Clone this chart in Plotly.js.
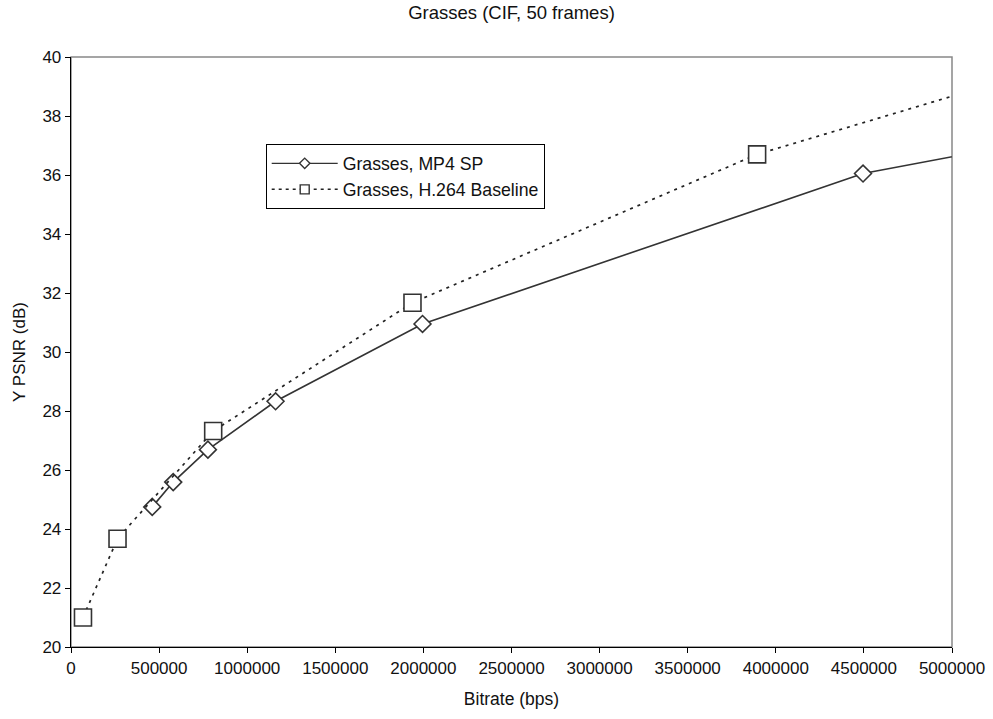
<!DOCTYPE html>
<html>
<head>
<meta charset="utf-8">
<script src="https://cdn.plot.ly/plotly-3.0.1.min.js"></script>
<style>html,body{margin:0;padding:0;background:#fff;}#chart{width:993px;height:719px;}</style>
</head>
<body>
<div id="chart"></div>
<script>
// Data
const mp4Name = "Grasses, MP4 SP";
const mp4Bitrate = [461000, 580000, 777000, 1161000, 1995000, 4495000, 6000000];
const mp4Psnr    = [24.75, 25.59, 26.69, 28.33, 30.95, 36.05, 37.75];

const h264Name = "Grasses, H.264 Baseline";
const h264Bitrate = [68000, 264000, 807000, 1938000, 3894000, 6000000];
const h264Psnr    = [21.0, 23.67, 27.32, 31.67, 36.70, 40.45];

const xTicks = [0, 500000, 1000000, 1500000, 2000000, 2500000, 3000000, 3500000, 4000000, 4500000, 5000000];
const yTicks = [20, 22, 24, 26, 28, 30, 32, 34, 36, 38, 40];

const ink = '#333333';
const fam = 'Liberation Sans, Arial, sans-serif';
const font = {family: fam, size: 17, color: '#111'};

const traces = [
  {x: mp4Bitrate, y: mp4Psnr, mode: 'lines+markers', name: mp4Name, showlegend: false,
   line: {color: ink, width: 1.6},
   marker: {symbol: 'diamond', size: 13, color: '#fff', line: {color: ink, width: 1.6}}},
  {x: h264Bitrate, y: h264Psnr, mode: 'lines+markers', name: h264Name, showlegend: false,
   line: {color: '#222', width: 1.7, dash: '3px,5px'},
   marker: {symbol: 'square', size: 17, color: '#fff', line: {color: ink, width: 1.6}}},
  // legend entries
  {x: [null], y: [null], mode: 'lines+markers', name: mp4Name,
   line: {color: ink, width: 1.4},
   marker: {symbol: 'diamond', size: 8, color: '#fff', line: {color: ink, width: 1.4}}},
  {x: [null], y: [null], mode: 'lines+markers', name: h264Name,
   line: {color: '#222', width: 1.5, dash: '3px,4px'},
   marker: {symbol: 'square', size: 9, color: '#fff', line: {color: ink, width: 1.4}}}
];

const layout = {
  width: 993, height: 719,
  margin: {l: 71, r: 41, t: 57, b: 72, pad: 0},
  paper_bgcolor: '#fff', plot_bgcolor: '#fff',
  font: font,
  title: {text: 'Grasses (CIF, 50 frames)', x: 0.5, xref: 'paper', y: 0.982, yanchor: 'middle', font: {size: 18.5, family: fam, color: '#111'}},
  xaxis: {
    range: [0, 5000000], tickmode: 'array', tickvals: xTicks, ticktext: xTicks.map(String),
    showgrid: false, zeroline: false, showline: true, linecolor: '#000', linewidth: 1.3,
    ticks: 'outside', ticklen: 5, tickcolor: '#000', tickwidth: 1,
    tickfont: {size: 17}, title: {text: 'Bitrate (bps)', font: {size: 17.5}, standoff: 16}
  },
  yaxis: {
    range: [20, 40], tickmode: 'array', tickvals: yTicks, ticktext: yTicks.map(String),
    showgrid: false, zeroline: false, showline: true, linecolor: '#000', linewidth: 1.3,
    ticks: 'outside', ticklen: 5, tickcolor: '#000', tickwidth: 1,
    tickfont: {size: 17}, title: {text: 'Y PSNR (dB)', font: {size: 17}, standoff: 12}
  },
  shapes: [{type: 'rect', xref: 'paper', yref: 'paper', x0: 0, x1: 1, y0: 0, y1: 1,
            line: {color: '#888', width: 1.5}, layer: 'below'}],
  legend: {x: 0.221, y: 0.852, xanchor: 'left', yanchor: 'top',
           bgcolor: '#fff', bordercolor: '#000', borderwidth: 1,
           font: {size: 17.7}, itemwidth: 66, tracegroupgap: 0}
};

Plotly.newPlot('chart', traces, layout, {staticPlot: true, displayModeBar: false});
</script>
</body>
</html>
